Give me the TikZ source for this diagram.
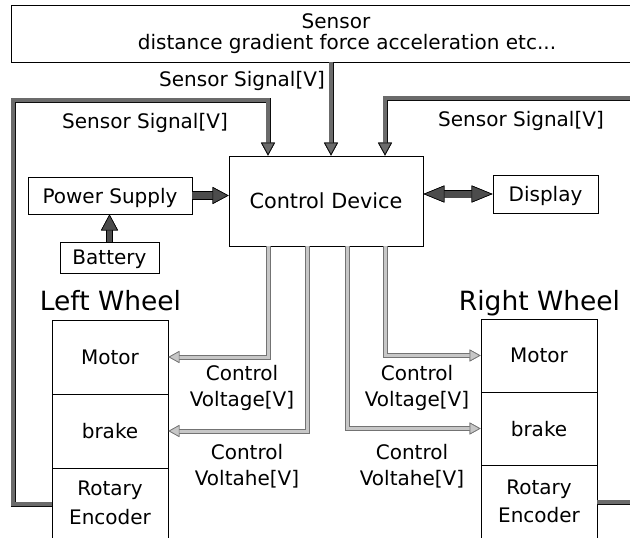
\documentclass[tikz,border=0pt]{standalone}
\usepackage{fontspec}
\setmainfont{DejaVu Sans}
\usetikzlibrary{arrows.meta}
\tikzset{
  fattip/.tip={Triangle[length=16pt,width=17pt,line width=0.6pt,fill=black!70,color=black]},
  longtip/.tip={Triangle[length=21pt,width=17pt,line width=0.6pt,fill=black!70,color=black]}
}
\begin{document}
\begin{tikzpicture}[x=1pt,y=-1pt,
  box/.style={draw=black, line width=0.9pt, inner sep=0pt, font=\fontsize{20}{24}\selectfont, text depth=0pt},
  txt/.style={inner sep=0pt, align=center, font=\fontsize{20}{26.5}\selectfont},
  wheel/.style={inner sep=0pt, font=\fontsize{26.5}{30}\selectfont},
  sensarrow/.style={line width=3.2pt, draw=black!58, preaction={draw=black!95, line width=5pt}},
  senstip/.style={-{Triangle[length=13pt,width=14pt,line width=0.8pt,fill=black!58,color=black!95]}},
  ctlarrow/.style={line width=3pt, draw=black!22, preaction={draw=black!55, line width=5pt},
    -{Triangle[length=11pt,width=12pt,line width=0.7pt,fill=black!22,color=black!55]}},
  fatline/.style={draw=black!70, preaction={draw=black, line width=#1+1.4pt}, line width=#1}
]
\useasboundingbox (0,0) rectangle (630,538);
\fill[white] (0,0) rectangle (630,538);

% sensor
\node[box, minimum width=650pt, minimum height=57pt] (sensor) at (336,33.5) {};
\node[txt] (sensorA) at (336,21) {Sensor};
\node[txt] (sensorB) at (347,43.5) {distance gradient force acceleration etc...};

% control device and peripherals
\node[box, minimum width=194pt, minimum height=90pt, font=\fontsize{20.8}{24}\selectfont] (ctrl) at (326,201) {Control Device};
\node[box, minimum width=164pt, minimum height=37pt] (power) at (110,195.5) {Power Supply};
\node[box, minimum width=99pt, minimum height=31pt] (battery) at (109.5,257.5) {Battery};
\node[box, minimum width=105pt, minimum height=38pt] (display) at (545.5,194) {Display};

% wheels
\node[wheel] (leftwheel) at (110.5,300.5) {Left Wheel};
\node[wheel] (rightwheel) at (539.5,303) {Right Wheel};

\node[box, minimum width=116pt, minimum height=74pt] (motorL) at (110,357) {Motor};
\node[box, minimum width=116pt, minimum height=74pt] (brakeL) at (110,431) {brake};
\node[box, minimum width=116pt, minimum height=72pt] (encL) at (110,504) {};
\node[txt, font=\fontsize{20}{29}\selectfont] (encLt) at (110,502.5) {Rotary\\Encoder};

\node[box, minimum width=116pt, minimum height=73pt] (motorR) at (539,355.5) {Motor};
\node[box, minimum width=116pt, minimum height=73pt] (brakeR) at (539,428.5) {brake};
\node[box, minimum width=116pt, minimum height=74pt] (encR) at (539,502) {};
\node[txt, font=\fontsize{20}{28}\selectfont] (encRt) at (539,501) {Rotary\\Encoder};

% labels
\node[txt, anchor=east] (sigC) at (325,81) {Sensor Signal[V]};
\node[txt] (sigL) at (145,122.5) {Sensor Signal[V]};
\node[txt] (sigR) at (521,121) {Sensor Signal[V]};
\node[txt] (cvL) at (242,388) {Control\\Voltage[V]};
\node[txt] (cvR) at (417,388) {Control\\Voltage[V]};
\node[txt] (cvL2) at (247,466) {Control\\Voltahe[V]};
\node[txt] (cvR2) at (412,466) {Control\\Voltahe[V]};

% helper coordinates
\coordinate (xL) at (268,0);
\coordinate (xM) at (331,0);
\coordinate (xR) at (385,0);
\coordinate (xB) at (307,0);
\coordinate (xC) at (347,0);
\coordinate (edgeT) at (630,98);
\coordinate (edgeB) at (630,502);
\coordinate (cornerL) at (13,100);

% sensor signal lines
\draw[sensarrow, senstip] (encL.west) -| (cornerL) -| (xL |- ctrl.north);
\draw[sensarrow, senstip] (xM |- sensor.south) -- (xM |- ctrl.north);
\draw[sensarrow, senstip] (edgeT) -| (xR |- ctrl.north);
\draw[sensarrow] (encR.east) -- (edgeB);

% control voltage lines
\draw[ctlarrow] (xL |- ctrl.south) |- (motorL.east);
\draw[ctlarrow] (xB |- ctrl.south) |- (brakeL.east);
\draw[ctlarrow] (xC |- ctrl.south) |- (brakeR.west);
\draw[ctlarrow] (xR |- ctrl.south) |- (motorR.west);

% power, battery, display
\draw[fatline=7pt, -fattip] (power.east) -- (power.east -| ctrl.west);
\draw[fatline=5.5pt, -fattip] (battery.north) -- (battery.north |- power.south);
\draw[fatline=7pt, longtip-longtip] (ctrl.east |- display.west) -- (display.west);
\end{tikzpicture}
\end{document}
